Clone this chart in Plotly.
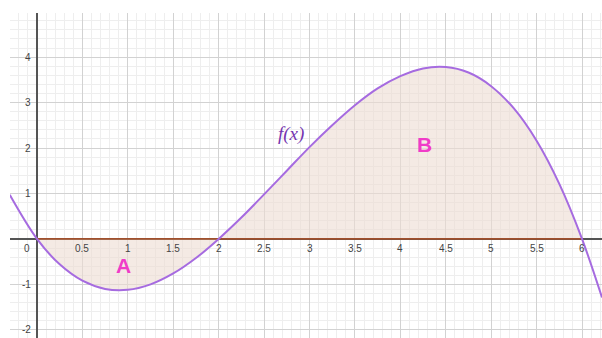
import plotly.graph_objects as go

# Curve f(x)
x_vals = [-0.3, 0, 0.25, 0.5, 0.75, 1, 1.25, 1.5, 1.75, 2, 2.25, 2.5, 2.75, 3, 3.25,
          3.5, 3.75, 4, 4.25, 4.5, 4.75, 5, 5.25, 5.5, 5.75, 6, 6.22]
y_vals = [0.97, 0, -0.56, -0.92, -1.10, -1.12, -1.00, -0.76, -0.42, 0, 0.47, 0.98, 1.50,
          2.02, 2.50, 2.94, 3.31, 3.58, 3.75, 3.78, 3.66, 3.36, 2.87, 2.16, 1.21, 0, -1.29]

# Tick labels
x_ticks = [0.5, 1, 1.5, 2, 2.5, 3, 3.5, 4, 4.5, 5, 5.5, 6]
x_tick_text = ["0.5", "1", "1.5", "2", "2.5", "3", "3.5", "4", "4.5", "5", "5.5", "6"]
y_ticks = [4, 3, 2, 1, -1, -2]
y_tick_text = ["4", "3", "2", "1", "-1", "-2"]

# Region labels
region_names = ["A", "B"]
region_x = [0.95, 4.27]
region_y = [-0.58, 2.07]

fill_x = [x for x in x_vals if 0 <= x <= 6]
fill_y = [y for x, y in zip(x_vals, y_vals) if 0 <= x <= 6]

fig = go.Figure()
fig.add_trace(go.Scatter(x=fill_x, y=fill_y, mode="lines", line=dict(width=0, shape="spline"),
                         fill="tozeroy", fillcolor="rgba(236,220,210,0.6)", hoverinfo="skip",
                         showlegend=False))
fig.add_trace(go.Scatter(x=[0, 6], y=[0, 0], mode="lines",
                         line=dict(color="#A0502D", width=1.6), showlegend=False))
fig.add_trace(go.Scatter(x=x_vals, y=y_vals, mode="lines",
                         line=dict(color="#A66BE0", width=2, shape="spline", smoothing=1.0),
                         showlegend=False))

ann = []
for t, lbl in zip(x_ticks, x_tick_text):
    ann.append(dict(x=t, y=0, text=lbl, showarrow=False, xanchor="center", yanchor="top",
                    yshift=-2, font=dict(size=10, color="#444", family="Arial")))
ann.append(dict(x=0, y=0, text="0", showarrow=False, xanchor="right", yanchor="top",
                xshift=-5, yshift=-2, font=dict(size=10, color="#444", family="Arial")))
for t, lbl in zip(y_ticks, y_tick_text):
    ann.append(dict(x=0, y=t, text=lbl, showarrow=False, xanchor="right", yanchor="middle",
                    xshift=-4, font=dict(size=10, color="#444", family="Arial")))
for n, rx, ry in zip(region_names, region_x, region_y):
    ann.append(dict(x=rx, y=ry, text="<b>" + n + "</b>", showarrow=False,
                    font=dict(size=21, color="#F03CC8", family="Arial")))
ann.append(dict(x=2.8, y=2.3, text="<i>f(x)</i>", showarrow=False,
                font=dict(size=19, color="#7536B0", family="Liberation Serif")))

fig.update_layout(
    width=602, height=338,
    margin=dict(l=10, r=0, t=13, b=0, pad=0, autoexpand=False),
    paper_bgcolor="white", plot_bgcolor="white",
    annotations=ann,
    xaxis=dict(range=[-0.297, 6.22], dtick=0.5, tick0=0, showticklabels=False,
               showgrid=True, gridcolor="#d2d2d2", gridwidth=1,
               minor=dict(dtick=0.1, tick0=0, showgrid=True, gridcolor="#eeeeee", gridwidth=1),
               zeroline=True, zerolinecolor="#555555", zerolinewidth=1.5,
               showline=False, fixedrange=True),
    yaxis=dict(range=[-2.18, 4.97], dtick=1, tick0=0, showticklabels=False,
               showgrid=True, gridcolor="#d2d2d2", gridwidth=1,
               minor=dict(dtick=0.2, tick0=0, showgrid=True, gridcolor="#eeeeee", gridwidth=1),
               zeroline=True, zerolinecolor="#555555", zerolinewidth=1.5,
               showline=False, fixedrange=True),
)

fig.write_html("out.html", config={"displayModeBar": False},
               post_script="document.body.style.margin='0px';document.body.style.overflow='hidden';")
